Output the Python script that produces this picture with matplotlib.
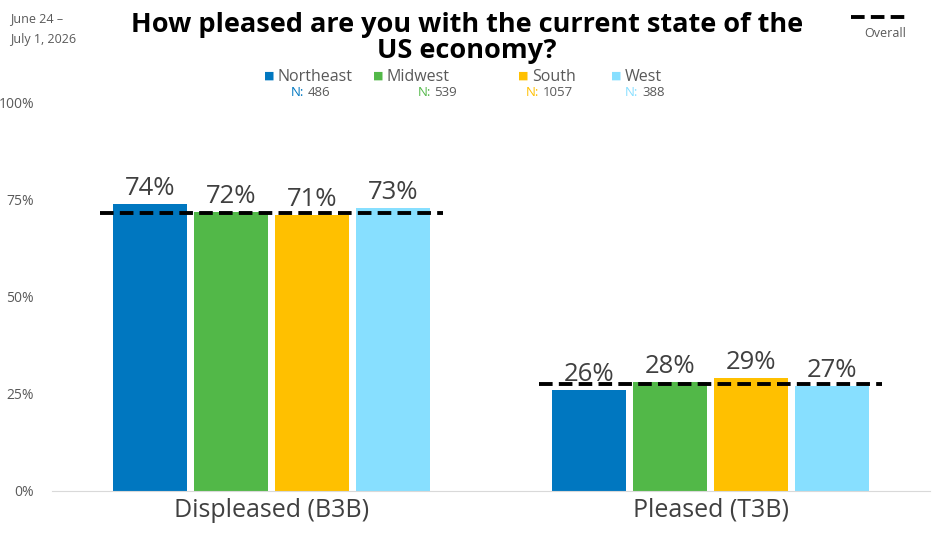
import matplotlib.pyplot as plt
import numpy as np

# data
categories = ["Displeased (B3B)", "Pleased (T3B)"]
regions = ["Northeast", "Midwest", "South", "West"]
sample_n = ["486", "539", "1057", "388"]
values = {
    "Northeast": [74, 26],
    "Midwest": [72, 28],
    "South": [71, 29],
    "West": [73, 27],
}
overall = [71.6, 27.6]
colors = ["#0077C0", "#52B848", "#FFC000", "#87DFFF"]
yticks = [0, 25, 50, 75, 100]

plt.rcParams['font.family'] = ['Open Sans', 'DejaVu Sans']

fig = plt.figure(figsize=(9.36, 5.38), dpi=100)
ax = fig.add_axes([0.0556, 0.0874, 0.938, 0.7212])

x = np.arange(len(categories))
width = 0.168
step = 0.185
offsets = (np.arange(len(regions)) - 1.5) * step
for i, reg in enumerate(regions):
    bars = ax.bar(x + offsets[i], values[reg], width, color=colors[i], zorder=2)
    for b, v in zip(bars, values[reg]):
        ax.text(b.get_x() + b.get_width() / 2, v + 0.8, f"{v}%", ha='center', va='bottom',
                fontsize=18.5, color='#404040', zorder=4)

# overall dashed lines per group
for xi, ov in zip(x, overall):
    ax.plot([xi - 0.39, xi + 0.39], [ov, ov], color='black', lw=2.8,
            ls=(0, (3.5, 1.6)), zorder=3)

ax.set_xlim(-0.5, 1.5)
ax.set_ylim(0, 100)
ax.set_yticks(yticks)
ax.set_yticklabels([f"{t}%" for t in yticks], fontsize=10, color='#595959')
ax.set_xticks(x)
ax.set_xticklabels(categories, fontsize=18, color='#404040')
ax.tick_params(axis='both', length=0)
ax.tick_params(axis='y', pad=13)
ax.tick_params(axis='x', pad=5)
for s in ['top', 'right', 'left']:
    ax.spines[s].set_visible(False)
ax.spines['bottom'].set_color('#D9D9D9')

# title and header
fig.text(0.499, 0.978, "How pleased are you with the current state of the\nUS economy?",
         ha='center', va='top', fontsize=19.5, fontweight='bold', color='black',
         linespacing=1.0)
fig.text(0.011, 0.977, "June 24 \u2013\nJuly 1, 2026", ha='left', va='top', fontsize=9,
         color='#595959', linespacing=1.75)

# overall legend top right
fig.add_artist(plt.Line2D([0.909, 0.967], [0.968, 0.968], color='black', lw=2.8,
                          ls=(0, (3.5, 1.6))))
fig.text(0.946, 0.938, "Overall", ha='center', va='center', fontsize=9, color='#595959')

# region legend
leg_x = [0.282, 0.398, 0.553, 0.653]
n_x = [0.311, 0.446, 0.562, 0.668]
for i, reg in enumerate(regions):
    fig.text(leg_x[i], 0.859, "\u25A0", ha='left', va='center', fontsize=8, color=colors[i])
    fig.text(leg_x[i] + 0.015, 0.857, reg, ha='left', va='center', fontsize=11.5, color='#595959')
    fig.text(n_x[i], 0.828, "N:", ha='left', va='center', fontsize=9.5, color=colors[i])
    fig.text(n_x[i] + 0.018, 0.828, sample_n[i], ha='left', va='center', fontsize=9.5,
             color='#595959')

fig.savefig('out.png', dpi=100)
